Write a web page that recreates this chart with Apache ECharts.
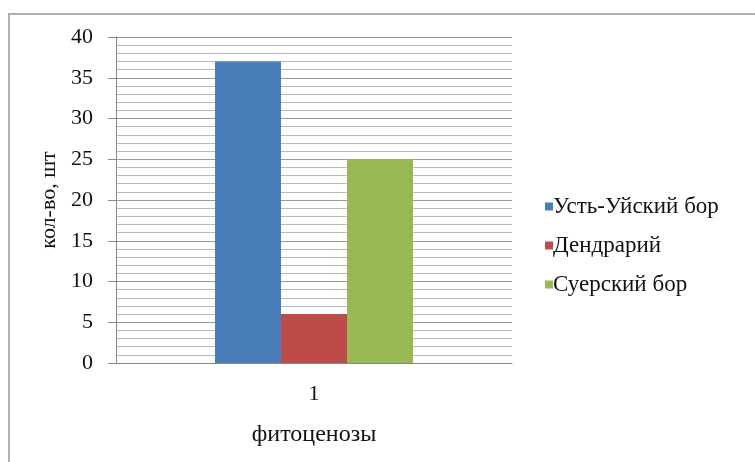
<!DOCTYPE html>
<html>
<head>
<meta charset="UTF-8">
<title></title>
<script src="https://cdn.jsdelivr.net/npm/echarts@6/dist/echarts.min.js"></script>
<style>
  html, body { margin: 0; padding: 0; background: #fff; }
  #main { width: 755px; height: 462px; }
</style>
</head>
<body>
<div id="main"></div>
<script type="text/javascript">
var categories = ['1'];
var seriesNames = ['Усть-Уйский бор', 'Дендрарий', 'Суерский бор'];
var ustUy = [37];
var dendrariy = [6];
var suersky = [25];
var colors = ['#4a7ebb', '#be4b48', '#98b954'];

var font = 'Liberation Serif, Times New Roman, serif';
var chart = echarts.init(document.getElementById('main'));
var option = {
  backgroundColor: '#fff',
  animation: false,
  color: colors,
  graphic: [{
    type: 'polyline',
    shape: { points: [[9, 462], [9, 14], [755, 14]] },
    style: { stroke: '#b0b0b0', lineWidth: 2, fill: null }
  }],
  grid: { left: 116, right: 243, top: 37, bottom: 99 },
  legend: {
    orient: 'vertical',
    left: 540,
    top: 190,
    itemWidth: 8,
    itemHeight: 8,
    itemGap: 16,
    icon: 'rect',
    textStyle: { fontFamily: font, fontSize: 23, color: '#111', padding: [0, 0, 0, -5] },
    data: seriesNames
  },
  xAxis: {
    type: 'category',
    data: categories,
    name: 'фитоценозы',
    nameLocation: 'middle',
    nameGap: 60,
    nameTextStyle: { fontFamily: font, fontSize: 24, color: '#111' },
    axisLine: { lineStyle: { color: '#888' } },
    axisTick: { show: false },
    axisLabel: { fontFamily: font, fontSize: 22, color: '#111', margin: 20 }
  },
  yAxis: {
    type: 'value',
    min: 0,
    max: 40,
    interval: 5,
    name: 'кол-во, шт',
    nameLocation: 'middle',
    nameGap: 54,
    nameTextStyle: { fontFamily: font, fontSize: 22, color: '#111' },
    axisLine: { show: true, lineStyle: { color: '#888' } },
    axisTick: { show: true, length: 8, lineStyle: { color: '#888' } },
    axisLabel: { fontFamily: font, fontSize: 22, color: '#111', margin: 23 },
    splitLine: { show: true, lineStyle: { color: '#9a9a9a' } },
    minorTick: { show: false, splitNumber: 5 },
    minorSplitLine: { show: true, lineStyle: { color: '#b8b8b8' } }
  },
  series: [
    { name: seriesNames[0], type: 'bar', data: ustUy, barGap: '0%', barCategoryGap: '50%' },
    { name: seriesNames[1], type: 'bar', data: dendrariy },
    { name: seriesNames[2], type: 'bar', data: suersky }
  ]
};
chart.setOption(option);
</script>
</body>
</html>
